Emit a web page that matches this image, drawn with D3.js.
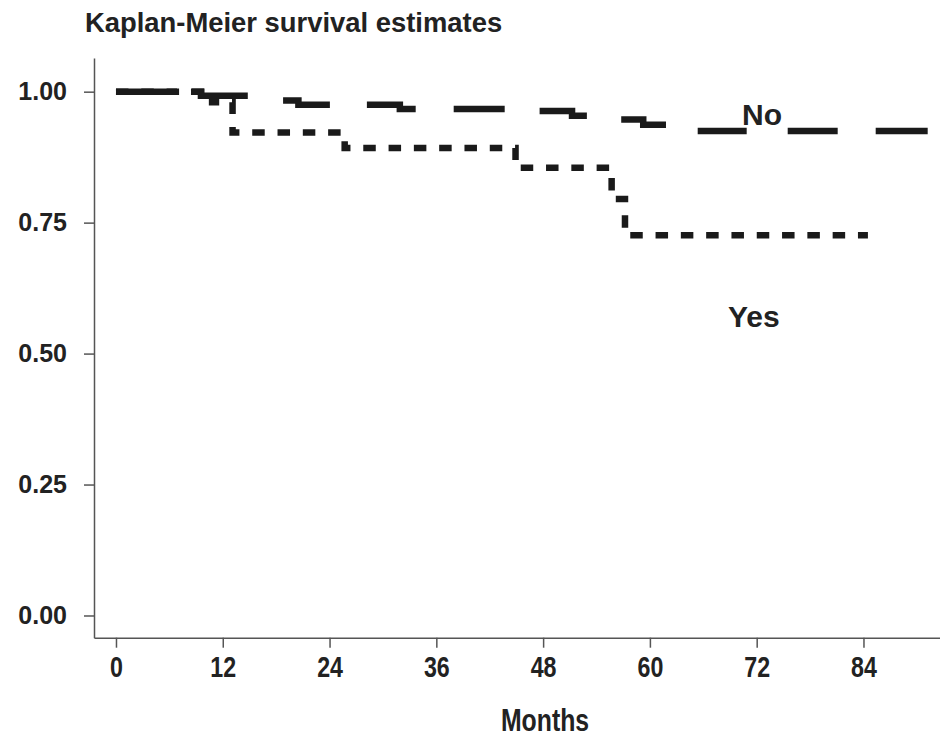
<!DOCTYPE html>
<html>
<head>
<meta charset="utf-8">
<script src="https://cdn.jsdelivr.net/npm/d3@7"></script>
<style>
  html, body { margin: 0; padding: 0; background: #fff; }
  svg { display: block; }
  .y-axis text { font-family: 'Liberation Sans', Arial, sans-serif; font-weight: bold; font-size: 25px; fill: #222; }
  .x-axis text { font-family: 'Liberation Sans', Arial, sans-serif; font-weight: bold; font-size: 29px; fill: #222; }
  .axis path, .axis line { stroke: #555; stroke-width: 1.5; }
</style>
</head>
<body>
<div id="chart"></div>
<script>
// survival estimates
const noMonths = [0, 9.55, 17, 20.5, 31.9, 46.5, 51.25, 55.5, 59.25, 63.5, 91.3];
const noSurv = [1.0, 0.992, 0.983, 0.975, 0.967, 0.963, 0.954, 0.947, 0.937, 0.925, 0.925];
const yesMonths = [0, 10.8, 13.1, 25.7, 44.9, 55.7, 57.2, 84.5];
const yesSurv = [1.0, 0.98, 0.922, 0.8925, 0.855, 0.795, 0.726, 0.726];

const xTicks = [0, 12, 24, 36, 48, 60, 72, 84];
const yTicks = [0, 0.25, 0.5, 0.75, 1];

const svgWidth = 940;
const svgHeight = 747;
const narrow = 0.8; // the x labels are in a condensed face

const svg = d3
    .select('#chart')
    .append('svg')
    .attr('width', svgWidth)
    .attr('height', svgHeight);

const x = d3.scaleLinear().domain([-2.47, 92.6]).range([94, 940]);
const y = d3.scaleLinear().domain([-0.0424, 1.0643]).range([637.7, 58]);

svg.append('g')
    .attr('class', 'axis y-axis')
    .attr('transform', `translate(${x.range()[0]}, 0)`)
    .call(d3.axisLeft(y).tickValues(yTicks).tickFormat(d3.format('.2f')).tickSize(10).tickSizeOuter(0).tickPadding(17));

svg.append('g')
    .attr('class', 'axis x-axis')
    .attr('transform', `translate(0, ${y.range()[0]})`)
    .call(d3.axisBottom(x).tickValues(xTicks).tickSize(10).tickSizeOuter(0).tickPadding(9))
    .selectAll('.tick text')
    .attr('transform', `scale(${narrow},1)`);

const line = d3
    .line()
    .x(d => x(d[0]))
    .y(d => y(d[1]))
    .curve(d3.curveStepAfter);

const yesData = yesMonths.map((m, i) => [m, yesSurv[i]]);
const noData = noMonths.map((m, i) => [m, noSurv[i]]);

svg.append('path')
    .datum(yesData)
    .attr('fill', 'none')
    .attr('stroke', '#1a1a1a')
    .attr('stroke-width', 6.5)
    .attr('stroke-dasharray', '12.5,12.8')
    .attr('d', line);

// long dash pattern as it falls in the original
svg.append('path')
    .datum(noData)
    .attr('fill', 'none')
    .attr('stroke', '#1a1a1a')
    .attr('stroke-width', 6.5)
    .attr('stroke-dasharray', '61,14,61,40,51,37,53,38,51,37,52,38,50,38,49,41,50,38,52,100')
    .attr('d', line);

const labelFont = "'Liberation Sans', Arial, sans-serif";

svg.append('text')
    .attr('x', 85)
    .attr('y', 32)
    .attr('font-family', labelFont)
    .attr('font-weight', 'bold')
    .attr('font-size', 27.4)
    .attr('fill', '#222')
    .text('Kaplan-Meier survival estimates');

svg.append('text')
    .attr('x', 742)
    .attr('y', 125)
    .attr('font-family', labelFont)
    .attr('font-weight', 'bold')
    .attr('font-size', 30)
    .attr('fill', '#222')
    .text('No');

svg.append('text')
    .attr('x', 728)
    .attr('y', 327)
    .attr('font-family', labelFont)
    .attr('font-weight', 'bold')
    .attr('font-size', 30)
    .attr('fill', '#222')
    .text('Yes');

svg.append('text')
    .attr('transform', `translate(545, 731) scale(${narrow},1)`)
    .attr('text-anchor', 'middle')
    .attr('font-family', labelFont)
    .attr('font-weight', 'bold')
    .attr('font-size', 31)
    .attr('fill', '#222')
    .text('Months');
</script>
</body>
</html>
